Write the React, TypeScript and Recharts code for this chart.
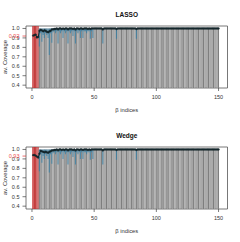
import { ComposedChart, Bar, Line, XAxis, YAxis, ReferenceArea, Cell } from 'recharts';

// β indices 1..150
const indices = Array.from({ length: 150 }, (_, i) => i + 1);

// average coverage per index
const lassoCov = [
  0.925, 0.93, 0.935, 0.905, 0.91, 0.975, 0.985, 0.98, 0.97, 0.98,
  0.975, 0.965, 0.96, 0.97, 0.975, 0.99, 0.99, 0.995, 0.995, 1.0,
  0.99, 1.0, 1.0, 0.995, 1.0, 0.995, 1.0, 1.0, 0.99, 1.0,
  1.0, 1.0, 0.995, 1.0, 0.99, 1.0, 1.0, 0.995, 1.0, 1.0,
  0.995, 1.0, 1.0, 1.0, 0.995, 1.0, 0.995, 1.0, 1.0, 1.0,
  1.0, 1.0, 1.0, 1.0, 1.0, 1.0, 0.99, 1.0, 1.0, 1.0,
  1.0, 1.0, 1.0, 1.0, 1.0, 1.0, 1.0, 0.995, 1.0, 1.0,
  1.0, 1.0, 1.0, 1.0, 1.0, 1.0, 1.0, 1.0, 1.0, 1.0,
  1.0, 1.0, 1.0, 0.995, 1.0, 1.0, 1.0, 1.0, 1.0, 1.0,
  1.0, 1.0, 1.0, 1.0, 1.0, 1.0, 1.0, 1.0, 1.0, 1.0,
  1.0, 1.0, 1.0, 1.0, 1.0, 1.0, 1.0, 1.0, 1.0, 1.0,
  1.0, 1.0, 1.0, 1.0, 1.0, 1.0, 1.0, 1.0, 1.0, 1.0,
  1.0, 1.0, 1.0, 1.0, 1.0, 1.0, 1.0, 1.0, 1.0, 1.0,
  1.0, 1.0, 1.0, 1.0, 1.0, 1.0, 1.0, 1.0, 1.0, 1.0,
  1.0, 1.0, 1.0, 1.0, 1.0, 1.0, 1.0, 1.0, 1.0, 1.0,
];

const wedgeCov = [
  0.94, 0.94, 0.935, 0.925, 0.915, 0.955, 0.985, 0.98, 0.975, 0.97,
  0.975, 0.97, 0.965, 0.975, 0.98, 0.99, 0.99, 0.995, 0.995, 1.0,
  0.99, 1.0, 1.0, 0.995, 1.0, 0.995, 1.0, 1.0, 0.99, 1.0,
  1.0, 1.0, 0.995, 1.0, 0.99, 1.0, 1.0, 0.995, 1.0, 1.0,
  0.995, 1.0, 1.0, 1.0, 0.995, 1.0, 0.995, 1.0, 1.0, 1.0,
  1.0, 1.0, 1.0, 1.0, 1.0, 1.0, 0.99, 1.0, 1.0, 1.0,
  1.0, 1.0, 1.0, 1.0, 1.0, 1.0, 1.0, 0.995, 1.0, 1.0,
  1.0, 1.0, 1.0, 1.0, 1.0, 1.0, 1.0, 1.0, 1.0, 1.0,
  1.0, 1.0, 1.0, 0.995, 1.0, 1.0, 1.0, 1.0, 1.0, 1.0,
  1.0, 1.0, 1.0, 1.0, 1.0, 1.0, 1.0, 1.0, 1.0, 1.0,
  1.0, 1.0, 1.0, 1.0, 1.0, 1.0, 1.0, 1.0, 1.0, 1.0,
  1.0, 1.0, 1.0, 1.0, 1.0, 1.0, 1.0, 1.0, 1.0, 1.0,
  1.0, 1.0, 1.0, 1.0, 1.0, 1.0, 1.0, 1.0, 1.0, 1.0,
  1.0, 1.0, 1.0, 1.0, 1.0, 1.0, 1.0, 1.0, 1.0, 1.0,
  1.0, 1.0, 1.0, 1.0, 1.0, 1.0, 1.0, 1.0, 1.0, 1.0,
];

// lower ends of the blue coverage intervals (upper end is 1.0)
const lassoBlueIdx = [6, 7, 8, 9, 10, 11, 12, 13, 14, 15, 16, 17, 18, 19, 20, 21, 22, 23, 24, 25, 26, 27, 28, 29, 30, 31, 32, 33, 34, 35, 36, 37, 38, 39, 40, 41, 42, 43, 44, 45, 46, 47, 48, 49, 57, 68, 84];
const lassoBlueLow = [0.81, 0.95, 0.86, 0.93, 0.9, 0.95, 0.93, 0.9, 0.72, 0.95, 0.85, 0.96, 0.97, 0.95, 0.97, 0.84, 0.97, 0.95, 0.97, 0.9, 0.97, 0.95, 0.97, 0.84, 0.97, 0.95, 0.97, 0.92, 0.97, 0.84, 0.97, 0.95, 0.97, 0.9, 0.97, 0.9, 0.97, 0.97, 0.95, 0.97, 0.97, 0.89, 0.97, 0.9, 0.84, 0.89, 0.89];
const wedgeBlueIdx = lassoBlueIdx;
const wedgeBlueLow = [0.77, 0.95, 0.86, 0.93, 0.9, 0.95, 0.93, 0.9, 0.755, 0.95, 0.85, 0.96, 0.97, 0.95, 0.97, 0.84, 0.97, 0.95, 0.97, 0.9, 0.97, 0.95, 0.97, 0.84, 0.97, 0.95, 0.97, 0.92, 0.97, 0.84, 0.97, 0.95, 0.97, 0.9, 0.97, 0.9, 0.97, 0.97, 0.95, 0.97, 0.97, 0.89, 0.97, 0.9, 0.84, 0.89, 0.89];

// indices of the truly active coefficients (red band)
const activeIdx = [1, 2, 3, 4, 5];
const barTop = 1.0;
const yTicks = [0.4, 0.5, 0.6, 0.7, 0.8, 0.9, 1.0];
const xTicks = [0, 50, 100, 150];

const X_DOMAIN: [number, number] = [-4.8, 157.2];
const Y_DOMAIN: [number, number] = [0.37, 1.026];
const FONT = '"Liberation Sans", Arial, sans-serif';

function buildRows(cov: number[], blueIdx: number[], blueLow: number[]) {
  return indices.map((idx, i) => {
    const k = blueIdx.indexOf(idx);
    const active = activeIdx.includes(idx);
    return {
      idx,
      active,
      bar: active ? Y_DOMAIN[1] : barTop,
      cov: cov[i],
      blue: k >= 0 ? [blueLow[k], barTop] : null,
    };
  });
}

const YTick = (props: any) => {
  const { y, payload, hl } = props;
  const red = payload.value === hl;
  return (
    <g>
      <line x1={22.5} x2={26} y1={y} y2={y} stroke={red ? '#e03030' : '#444'} strokeWidth={0.7} />
      <text x={19.5} y={y} dy="0.35em" textAnchor="end" fontSize={5.5} fontFamily={FONT} fill={red ? '#f05050' : '#333'}>
        {red ? hl.toFixed(2) : payload.value.toFixed(1)}
      </text>
    </g>
  );
};

function Panel({ title, rows, hl }: { title: string; rows: any[]; hl: number }) {
  return (
    <div style={{ position: 'relative', width: 240, height: 121 }}>
      <div
        style={{
          position: 'absolute', left: 26, width: 201.5, top: 10.5, textAlign: 'center',
          fontFamily: FONT, fontWeight: 'bold', fontSize: 6.5, lineHeight: '7px', color: '#111',
        }}
      >
        {title}
      </div>
      <ComposedChart width={240} height={121} data={rows} margin={{ top: 26, right: 12.5, bottom: 0, left: 0 }} barCategoryGap={0} barGap={0}>
        <XAxis
          type="number"
          dataKey="idx"
          domain={X_DOMAIN}
          allowDataOverflow
          ticks={xTicks}
          interval={0}
          height={33}
          axisLine={false}
          tickSize={3}
          tickMargin={4}
          tickLine={{ stroke: '#444', strokeWidth: 0.7 }}
          tick={{ fontSize: 5.5, fill: '#333', fontFamily: FONT }}
          label={{ value: 'β indices', position: 'insideBottom', offset: 9, fontSize: 5.8, fill: '#333', fontFamily: FONT }}
        />
        <XAxis xAxisId="blue" type="number" dataKey="idx" domain={X_DOMAIN} allowDataOverflow hide />
        <YAxis
          type="number"
          domain={Y_DOMAIN}
          allowDataOverflow
          ticks={[...yTicks, hl]}
          interval={0}
          width={26}
          axisLine={false}
          tickLine={false}
          tick={<YTick hl={hl} />}
          label={{ value: 'av. Coverage', angle: -90, position: 'insideLeft', offset: 5, fontSize: 5.8, fill: '#333', fontFamily: FONT, style: { textAnchor: 'middle' } }}
        />
        <ReferenceArea x1={0} x2={1} y1={Y_DOMAIN[0]} y2={Y_DOMAIN[1]} fill="#e06060" fillOpacity={0.7} stroke="none" ifOverflow="visible" />
        <Bar dataKey="bar" barSize={1.6} isAnimationActive={false}>
          {rows.map((r) => (
            <Cell key={r.idx} fill={r.active ? '#c23535' : r.idx % 2 === 0 ? '#7e7e7e' : '#9c9c9c'} />
          ))}
        </Bar>
        <Bar dataKey="blue" xAxisId="blue" barSize={1.3} fill="#2f7fa8" fillOpacity={0.7} isAnimationActive={false} />
        <Line
          dataKey="cov"
          stroke="#14262b"
          strokeWidth={1}
          dot={{ r: 0.9, fill: '#14262b', stroke: '#14262b', strokeWidth: 0.4 }}
          isAnimationActive={false}
        />
        <ReferenceArea x1={X_DOMAIN[0]} x2={X_DOMAIN[1]} y1={Y_DOMAIN[0]} y2={Y_DOMAIN[1]} fill="none" stroke="#555" strokeWidth={0.8} ifOverflow="visible" />
      </ComposedChart>
    </div>
  );
}

export default function App() {
  return (
    <div style={{ position: 'absolute', left: 0, top: 0, width: 240, height: 242, background: '#fff' }}>
      <Panel title="LASSO" rows={buildRows(lassoCov, lassoBlueIdx, lassoBlueLow)} hl={0.92} />
      <Panel title="Wedge" rows={buildRows(wedgeCov, wedgeBlueIdx, wedgeBlueLow)} hl={0.93} />
    </div>
  );
}
